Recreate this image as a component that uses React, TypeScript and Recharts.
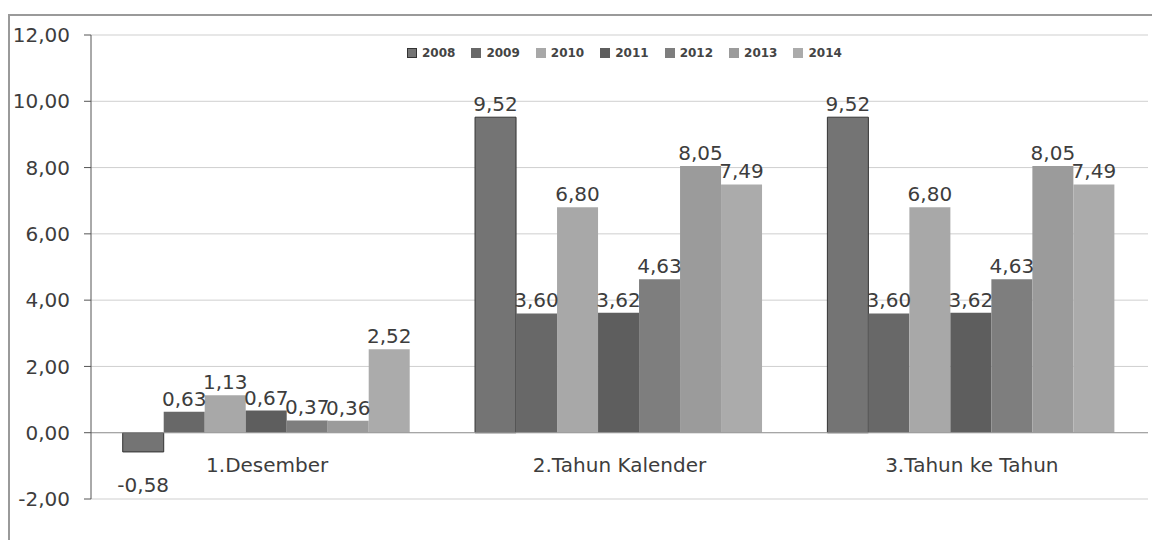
import React from "react";
import {
  BarChart,
  Bar,
  XAxis,
  YAxis,
  CartesianGrid,
  Legend,
  LabelList,
  ReferenceLine,
} from "recharts";

const CATEGORIES = ["1.Desember", "2.Tahun Kalender", "3.Tahun ke Tahun"];
const YEARS = ["2008", "2009", "2010", "2011", "2012", "2013", "2014"];

const V2008 = [-0.58, 9.52, 9.52];
const V2009 = [0.63, 3.6, 3.6];
const V2010 = [1.13, 6.8, 6.8];
const V2011 = [0.67, 3.62, 3.62];
const V2012 = [0.37, 4.63, 4.63];
const V2013 = [0.36, 8.05, 8.05];
const V2014 = [2.52, 7.49, 7.49];

const Y_TICKS = [-2, 0, 2, 4, 6, 8, 10, 12];

const SERIES = [V2008, V2009, V2010, V2011, V2012, V2013, V2014];

const COLORS = ["#747474", "#686868", "#a8a8a8", "#5e5e5e", "#7e7e7e", "#9b9b9b", "#ababab"];

const data = CATEGORIES.map((name, i) => {
  const row: Record<string, string | number> = { name };
  YEARS.forEach((y, k) => {
    row[y] = SERIES[k][i];
  });
  return row;
});

const FONT = "'DejaVu Sans', sans-serif";
const TEXT = "#3d3d3d";

const fmt = (v: number) => v.toFixed(2).replace(".", ",");

function BarLabel(props: any) {
  const { x, y, width, height, value } = props;
  const top = Math.min(y, y + height);
  const bottom = Math.max(y, y + height);
  const cx = x + width / 2;
  const ty = value >= 0 ? top - 6 : bottom + 40;
  return (
    <text x={cx} y={ty} textAnchor="middle" fontFamily={FONT} fontSize={20} fill={TEXT}>
      {fmt(value)}
    </text>
  );
}

function CategoryTick(props: any) {
  const { x, y, payload } = props;
  return (
    <text x={x} y={y - 35} textAnchor="middle" fontFamily={FONT} fontSize={20} fill={TEXT}>
      {payload.value}
    </text>
  );
}

function LegendContent() {
  return (
    <div style={{ display: "flex", fontFamily: FONT, fontSize: 12, fontWeight: "bold", color: "#444" }}>
      {YEARS.map((y, k) => (
        <div key={y} style={{ display: "flex", alignItems: "center", marginRight: 16 }}>
          <span
            style={{
              display: "inline-block",
              width: 10,
              height: 10,
              background: COLORS[k],
              border: k === 0 ? "1px solid #333" : "none",
              boxSizing: "border-box",
              marginRight: 5,
            }}
          />
          <span>{y}</span>
        </div>
      ))}
    </div>
  );
}

export default function App() {
  return (
    <div style={{ position: "absolute", left: 0, top: 0, width: 1152, height: 540, background: "#fff", overflow: "hidden" }}>
      <div
        style={{
          position: "absolute",
          left: 8,
          top: 14,
          width: 1160,
          height: 540,
          borderTop: "2px solid #9a9a9a",
          borderLeft: "2px solid #9a9a9a",
        }}
      />
      <BarChart
        width={1152}
        height={540}
        data={data}
        margin={{ top: 35, right: 4, bottom: 0, left: 0 }}
        barCategoryGap="9%"
        barGap={0}
      >
        <CartesianGrid vertical={false} stroke="#cfcfcf" />
        <XAxis
          dataKey="name"
          axisLine={false}
          tickLine={false}
          height={41}
          tick={<CategoryTick />}
        />
        <YAxis
          domain={[-2, 12]}
          ticks={Y_TICKS}
          width={91}
          tickFormatter={fmt}
          axisLine={{ stroke: "#555" }}
          tickLine={{ stroke: "#555" }}
          tickSize={7}
          tickMargin={14}
          tick={{ fontFamily: FONT, fontSize: 20, fill: TEXT }}
          interval={0}
        />
        <ReferenceLine y={0} stroke="#9a9a9a" />
        <Legend
          content={<LegendContent />}
          wrapperStyle={{ position: "absolute", top: 46, left: 407, width: 460, height: 0, overflow: "visible" }}
        />
        {YEARS.map((y, k) => (
          <Bar
            key={y}
            dataKey={y}
            fill={COLORS[k]}
            stroke={k === 0 ? "#333" : "none"}
            strokeWidth={1}
            isAnimationActive={false}
          >
            <LabelList dataKey={y} content={<BarLabel />} />
          </Bar>
        ))}
      </BarChart>
    </div>
  );
}
